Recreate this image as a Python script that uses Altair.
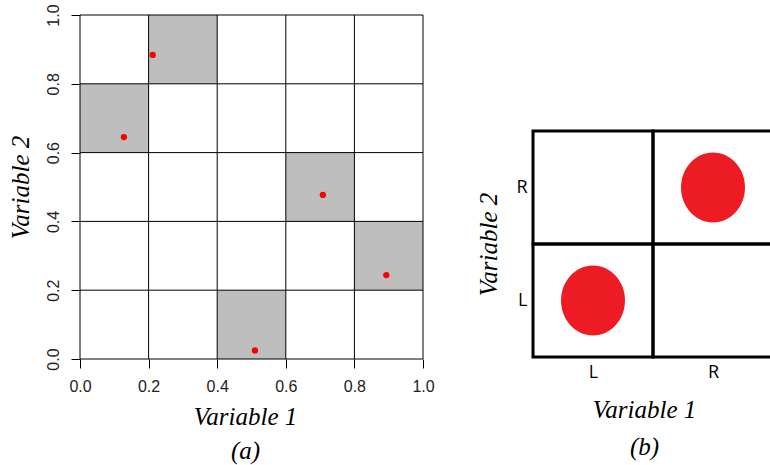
import altair as alt
import pandas as pd

# ---- Panel (a): 5 x 5 stratified sample -------------------------------
a_breaks = [0.0, 0.2, 0.4, 0.6, 0.8, 1.0]
a_step = 0.2
# lower-left corner of each shaded stratum
a_cell_x = [0.0, 0.2, 0.6, 0.8, 0.4]
a_cell_y = [0.6, 0.8, 0.4, 0.2, 0.0]
# sampled points
a_pt_x = [0.128, 0.212, 0.708, 0.893, 0.510]
a_pt_y = [0.645, 0.884, 0.477, 0.244, 0.025]

# ---- Panel (b): 2 x 2 design with levels L / R -------------------------
b_levels = ["L", "R"]
b_pt_x = ["L", "R"]
b_pt_y = ["L", "R"]

# ---- layout of the two panels (pixels) ----------------------------------
W, H = 770, 465
A_X = [80, 423]
A_Y = [359, 15]
B_X = [533, 773]
B_Y = [357, 131]

TITLE_FONT = "Liberation Serif"
TICK_FONT = "Liberation Sans"
LEVEL_FONT = "Open Sans"

# ---- tables -------------------------------------------------------------
a_cells = pd.DataFrame({
    "x": a_cell_x,
    "x2": [v + a_step for v in a_cell_x],
    "y": a_cell_y,
    "y2": [v + a_step for v in a_cell_y],
})
a_points = pd.DataFrame({"x": a_pt_x, "y": a_pt_y})
a_lines = pd.DataFrame({"v": a_breaks})

b_cells = pd.DataFrame(
    [{"x": i, "x2": i + 1, "y": j, "y2": j + 1}
     for j in range(len(b_levels)) for i in range(len(b_levels))]
)
b_points = pd.DataFrame({
    "x": [b_levels.index(v) + 0.5 for v in b_pt_x],
    "y": [b_levels.index(v) + 0.5 for v in b_pt_y],
})
b_centres = [i + 0.5 for i in range(len(b_levels))]
b_label_expr = "datum.value < 1 ? '%s' : '%s'" % (b_levels[0], b_levels[1])

# ---- scales and axes ----------------------------------------------------
a_xs = alt.Scale(domain=[0, 1], range=A_X, nice=False, zero=False)
a_ys = alt.Scale(domain=[0, 1], range=A_Y, nice=False, zero=False)
b_xs = alt.Scale(domain=[0, 2], range=B_X, nice=False, zero=False)
b_ys = alt.Scale(domain=[0, 2], range=B_Y, nice=False, zero=False)

title_style = dict(
    titleFont=TITLE_FONT, titleFontStyle="italic", titleFontWeight="normal",
    titleFontSize=25, titleColor="#000000",
)

a_xaxis = alt.Axis(
    orient="bottom", offset=-(H - A_Y[0]), values=a_breaks, format=".1f",
    domain=False, grid=False, tickSize=9, tickColor="#000000", tickWidth=1,
    labelFont=TICK_FONT, labelFontSize=16, labelColor="#222222", labelPadding=10,
    labelFlush=False, title=["Variable 1", "(a)"], titleLineHeight=34,
    titlePadding=10, titleX=245, **title_style,
)
a_yaxis = alt.Axis(
    orient="left", offset=-A_X[0], values=a_breaks, format=".1f",
    domain=False, grid=False, tickSize=9, tickColor="#000000", tickWidth=1,
    labelFont=TICK_FONT, labelFontSize=16, labelColor="#222222", labelPadding=10,
    labelAngle=270, labelAlign="center", labelBaseline="bottom", labelFlush=False,
    title="Variable 2", titlePadding=12, **title_style,
)
b_xaxis = alt.Axis(
    orient="bottom", offset=-(H - B_Y[0]), values=b_centres, labelExpr=b_label_expr,
    domain=False, grid=False, ticks=False, labelFont=LEVEL_FONT, labelFontSize=18,
    labelColor="#000000", labelPadding=6, labelFlush=False,
    title=["Variable 1", "(b)"], titleLineHeight=37, titlePadding=16,
    titleX=644, **title_style,
)
b_yaxis = alt.Axis(
    orient="left", offset=-B_X[0], values=b_centres, labelExpr=b_label_expr,
    domain=False, grid=False, ticks=False, labelFont=LEVEL_FONT, labelFontSize=18,
    labelColor="#000000", labelPadding=6, labelAngle=0, labelFlush=False,
    title="Variable 2", titlePadding=14, **title_style,
)

# ---- panel (a) layers ---------------------------------------------------
a_shade = alt.Chart(a_cells).mark_rect(fill="#bebebe", stroke=None).encode(
    x=alt.X("x:Q", scale=a_xs, axis=a_xaxis),
    x2="x2:Q",
    y=alt.Y("y:Q", scale=a_ys, axis=a_yaxis),
    y2="y2:Q",
)
a_vlines = alt.Chart(a_lines).mark_rule(color="#000000", strokeWidth=1).encode(
    x=alt.X("v:Q", scale=a_xs),
    y=alt.datum(0),
    y2=alt.datum(1),
)
a_hlines = alt.Chart(a_lines).mark_rule(color="#000000", strokeWidth=1).encode(
    y=alt.Y("v:Q", scale=a_ys),
    x=alt.datum(0),
    x2=alt.datum(1),
)
a_dots = alt.Chart(a_points).mark_circle(color="#ff0000", opacity=1, size=40).encode(
    x=alt.X("x:Q", scale=a_xs),
    y=alt.Y("y:Q", scale=a_ys),
)
panel_a = alt.layer(a_shade, a_vlines, a_hlines, a_dots)

# ---- panel (b) layers ---------------------------------------------------
ellipse = "M -0.914 0 A 0.914 1 0 1 0 0.914 0 A 0.914 1 0 1 0 -0.914 0 Z"
b_grid = alt.Chart(b_cells).mark_rect(
    fill=None, stroke="#000000", strokeWidth=3, clip=True
).encode(
    x=alt.X("x:Q", scale=b_xs, axis=b_xaxis),
    x2="x2:Q",
    y=alt.Y("y:Q", scale=b_ys, axis=b_yaxis),
    y2="y2:Q",
)
b_dots = alt.Chart(b_points).mark_point(
    shape=ellipse, filled=True, fill="#ed1c24", stroke=None, opacity=1, size=4900
).encode(
    x=alt.X("x:Q", scale=b_xs),
    y=alt.Y("y:Q", scale=b_ys),
)
panel_b = alt.layer(b_grid, b_dots)

chart = (
    alt.layer(panel_a, panel_b)
    .resolve_scale(x="independent", y="independent")
    .properties(width=W, height=H, padding=0,
                autosize=alt.AutoSizeParams(type="none"), background="#ffffff")
    .configure_view(stroke=None)
)

chart.save("out.html", embed_options={"renderer": "svg", "actions": False})
